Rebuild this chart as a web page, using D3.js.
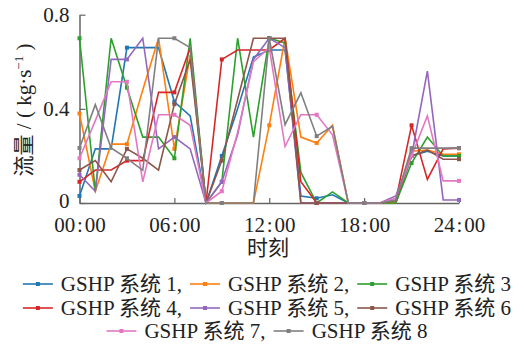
<!DOCTYPE html>
<html>
<head>
<meta charset="utf-8">
<script src="https://cdn.jsdelivr.net/npm/d3@7"></script>
<style>
  body { margin: 0; background: #fff; }
  text { font-family: "Liberation Serif", "Noto Sans CJK SC", serif; fill: #222; }
</style>
</head>
<body>
<svg id="chart" width="524" height="344"></svg>
<script>
// hours of the day, one point per hour
const hours = [0,1,2,3,4,5,6,7,8,9,10,11,12,13,14,15,16,17,18,19,20,21,22,23,24];
const xTicks = [0, 6, 12, 18, 24];
const xTickLabels = ["00:00", "06:00", "12:00", "18:00", "24:00"];
const yTicks = [0, 0.4, 0.8];
const yTickLabels = ["0", "0.4", "0.8"];

const names = ["GSHP 系统 1", "GSHP 系统 2", "GSHP 系统 3", "GSHP 系统 4",
               "GSHP 系统 5", "GSHP 系统 6", "GSHP 系统 7", "GSHP 系统 8"];
const colors = ["#1f77b4", "#ff7f0e", "#2ca02c", "#d62728", "#9467bd", "#8c564b", "#e377c2", "#7f7f7f"];

// flow, kg/s
const s1 = [0.03,0.23,0.23,0.66,0.66,0.66,0.43,0.37,0,0.20,0.40,0.62,0.65,0.65,0.03,0.02,0.035,0,0,0,0,0.20,0.22,0.20,0.20];
const s2 = [0.38,0.05,0.25,0.25,0.48,0.70,0.23,0.63,0,0,0,0,0.33,0.70,0.28,0.255,0.33,0,0,0,0,0.22,0.225,0.207,0.207];
const s3 = [0.70,0.05,0.70,0.49,0.28,0.28,0.19,0.70,0,0.09,0.70,0.28,0.70,0.68,0.13,0,0.047,0,0,0,0,0.17,0.28,0.20,0.20];
const s4 = [0.09,0.14,0.14,0.18,0.18,0.47,0.47,0.66,0,0.61,0.65,0.65,0.65,0.70,0.09,0,0,0,0,0,0.01,0.33,0.10,0.23,0.233];
const s5 = [0.12,0.05,0.61,0.61,0.70,0.23,0.28,0.23,0,0.09,0.29,0.61,0.70,0.66,0,0,0,0,0,0,0.03,0.20,0.56,0.013,0.013];
const s6 = [0.14,0.18,0.09,0.23,0.19,0.14,0.42,0.61,0,0.18,0.44,0.70,0.70,0.70,0,0,0,0,0,0,0.01,0.20,0.225,0.186,0.186];
const s7 = [0.19,0.35,0.515,0.515,0.09,0.375,0.375,0.33,0,0.05,0.30,0.60,0.66,0.24,0.375,0.375,0.29,0,0,0,0.02,0.20,0.37,0.094,0.094];
const s8 = [0.234,0.418,0.234,0.19,0.139,0.70,0.70,0.66,0,0,0,0,0.70,0.333,0.468,0.284,0.326,0,0,0,0.013,0.233,0.233,0.233,0.233];
const series = [s1, s2, s3, s4, s5, s6, s7, s8];

const svg = d3.select("#chart");
const plotLeft = 79.5, plotRight = 459, plotTop = 14.7, plotBottom = 203;

const x = d3.scaleLinear().domain([0, 24]).range([plotLeft, plotRight]);
const y = d3.scaleLinear().domain([0, 0.8]).range([plotBottom, plotTop]);

// axes: ticks pointing inward, like the original
const xAxis = svg.append("g")
  .attr("transform", `translate(0,${plotBottom})`)
  .call(d3.axisBottom(x).tickValues(xTicks).tickSizeInner(-5).tickSizeOuter(0).tickPadding(14)
    .tickFormat((d, i) => xTickLabels[i].replace(":", "\u200a:\u200a")));
const yAxis = svg.append("g")
  .attr("transform", `translate(${plotLeft},0)`)
  .call(d3.axisLeft(y).tickValues(yTicks).tickSizeInner(-6).tickSizeOuter(0).tickPadding(10)
    .tickFormat((d, i) => yTickLabels[i]));
[xAxis, yAxis].forEach(g => {
  g.select(".domain").attr("stroke", "#666").attr("stroke-width", 1.5);
  g.selectAll(".tick line").attr("stroke", "#666").attr("stroke-width", 1.2);
  g.selectAll(".tick text").attr("font-size", 21).attr("fill", "#222")
    .style("font-family", "'Liberation Serif', serif");
});
// the zero label sits a little high so it clears 00:00
yAxis.selectAll(".tick text").filter(d => d === 0).attr("dy", "0.2em");

// lines
const line = d3.line().x((d, i) => x(hours[i])).y(d => y(d));
series.forEach((s, k) => {
  svg.append("path")
    .datum(s)
    .attr("fill", "none")
    .attr("stroke", colors[k])
    .attr("stroke-width", 1.6)
    .attr("stroke-linejoin", "miter")
    .attr("d", line);
  svg.append("g").selectAll("rect")
    .data(s.map((v, i) => [hours[i], v]).filter((d, i) => i % 3 === 0))
    .join("rect")
    .attr("x", d => x(d[0]) - 2)
    .attr("y", d => y(d[1]) - 2)
    .attr("width", 4).attr("height", 4)
    .attr("fill", colors[k]);
});

// axis titles
const ylab = svg.append("text")
  .attr("transform", "translate(31,110) rotate(-90)")
  .attr("text-anchor", "middle")
  .attr("font-size", 21);
ylab.append("tspan").text("流量 / ( kg·s");
ylab.append("tspan").attr("font-size", 13).attr("dy", -8).text("−1");
ylab.append("tspan").attr("dy", 8).text(" )");

svg.append("text")
  .attr("x", 268).attr("y", 255)
  .attr("text-anchor", "middle")
  .attr("font-size", 21)
  .text("时刻");

// legend, three centred rows
const rows = [[0, 1, 2], [3, 4, 5], [6, 7]];
const rowY = [284, 308, 331];
const sample = 30, gap = 8, after = 8;
rows.forEach((row, r) => {
  const g = svg.append("g");
  let cx = 0;
  row.forEach((k, j) => {
    const label = names[k] + (j < row.length - 1 ? "," : "");
    g.append("line")
      .attr("x1", cx).attr("x2", cx + sample)
      .attr("y1", rowY[r]).attr("y2", rowY[r])
      .attr("stroke", colors[k]).attr("stroke-width", 1.6);
    g.append("rect")
      .attr("x", cx + sample / 2 - 2).attr("y", rowY[r] - 2)
      .attr("width", 4).attr("height", 4)
      .attr("fill", colors[k]);
    const t = g.append("text")
      .attr("x", cx + sample + gap).attr("y", rowY[r])
      .attr("dy", "0.35em")
      .attr("font-size", 21)
      .text(label);
    cx += sample + gap + t.node().getComputedTextLength() + after;
  });
  const w = cx - after;
  g.attr("transform", `translate(${267 - w / 2},0)`);
});
</script>
</body>
</html>
